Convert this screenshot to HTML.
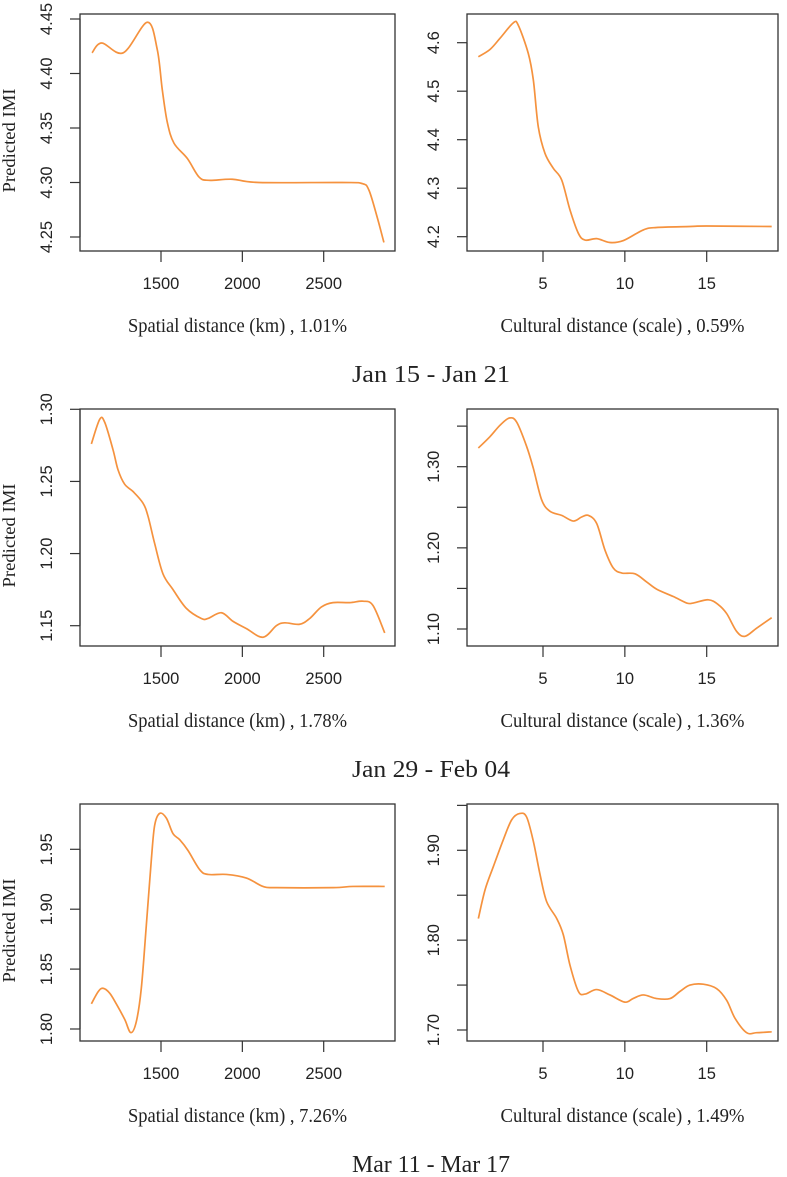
<!DOCTYPE html>
<html><head><meta charset="utf-8">
<style>
html,body{margin:0;padding:0;background:#fff;}
svg{display:block;}
.tick{font-family:"Liberation Sans",sans-serif;font-size:16.5px;fill:#222;}
.serif{font-family:"Liberation Serif",serif;fill:#222;}
</style></head>
<body>
<svg id="chart" width="787" height="1177" viewBox="0 0 787 1177" xmlns="http://www.w3.org/2000/svg"></svg>
<script>
// ---- data ----
const spatialTicks = [1500, 2000, 2500];
const culturalTicks = [5, 10, 15];
const captions = ["Jan 15 - Jan 21", "Jan 29 - Feb 04", "Mar 11 - Mar 17"];
const spatialTitles = ["Spatial distance (km) , 1.01%", "Spatial distance (km) , 1.78%", "Spatial distance (km) , 7.26%"];
const culturalTitles = ["Cultural distance (scale) , 0.59%", "Cultural distance (scale) , 1.36%", "Cultural distance (scale) , 1.49%"];

const p1X = [1076,1136,1268,1416,1477,1508,1539,1580,1662,1734,1795,1938,2102,2614,2737,2778,2829,2870];
const p1Y = [4.419,4.428,4.419,4.447,4.422,4.385,4.355,4.336,4.322,4.305,4.302,4.303,4.300,4.300,4.299,4.293,4.268,4.245];
const p1Ticks = [4.25,4.30,4.35,4.40,4.45];
const p1Labels = ["4.25","4.30","4.35","4.40","4.45"];

const p2X = [1.05,1.76,2.37,3.19,3.49,4.10,4.41,4.71,5.12,5.63,6.14,6.65,7.16,7.57,8.28,9.09,9.91,11.13,11.94,13.98,15,18.97];
const p2Y = [4.571,4.586,4.609,4.641,4.636,4.578,4.523,4.427,4.372,4.341,4.317,4.255,4.207,4.193,4.196,4.188,4.192,4.214,4.219,4.221,4.222,4.221];
const p2Ticks = [4.2,4.3,4.4,4.5,4.6];
const p2Labels = ["4.2","4.3","4.4","4.5","4.6"];

const p3X = [1072,1123,1154,1205,1236,1277,1328,1389,1420,1461,1512,1574,1656,1748,1789,1871,1943,2025,2127,2209,2260,2352,2414,2486,2557,2660,2742,2803,2875];
const p3Y = [1.276,1.293,1.291,1.272,1.258,1.248,1.243,1.235,1.226,1.207,1.186,1.175,1.162,1.155,1.155,1.159,1.153,1.148,1.142,1.150,1.152,1.151,1.155,1.163,1.166,1.166,1.167,1.164,1.145];
const p3Ticks = [1.15,1.20,1.25,1.30];
const p3Labels = ["1.15","1.20","1.25","1.30"];

const p4X = [1.05,1.76,2.37,2.94,3.39,4.00,4.41,4.92,5.43,6.14,6.85,7.36,7.77,8.28,8.79,9.30,9.81,10.62,11.33,11.95,12.96,13.78,14.18,15.1,15.71,16.22,16.83,17.34,18.05,18.97];
const p4Y = [1.323,1.337,1.351,1.360,1.355,1.325,1.298,1.259,1.245,1.240,1.233,1.238,1.240,1.230,1.197,1.175,1.169,1.168,1.158,1.149,1.140,1.132,1.132,1.136,1.130,1.119,1.097,1.091,1.101,1.114];
const p4Ticks = [1.10,1.15,1.20,1.25,1.30,1.35];
const p4Labels = ["1.10","","1.20","","1.30",""];

const p5X = [1072,1113,1143,1184,1225,1277,1314,1348,1379,1410,1441,1461,1492,1533,1574,1615,1666,1738,1789,1902,2025,2127,2209,2557,2680,2875];
const p5Y = [1.821,1.831,1.834,1.830,1.821,1.808,1.797,1.806,1.834,1.887,1.942,1.970,1.980,1.976,1.963,1.958,1.949,1.933,1.929,1.929,1.926,1.919,1.918,1.918,1.919,1.919];
const p5Ticks = [1.80,1.85,1.90,1.95];
const p5Labels = ["1.80","1.85","1.90","1.95"];

const p6X = [1.05,1.46,1.97,2.58,3.09,3.59,4.00,4.41,4.82,5.22,5.84,6.24,6.65,7.16,7.57,8.28,9.09,10.0,10.5,11.13,11.94,12.76,13.37,13.98,14.79,15.61,16.22,16.73,17.44,18.05,18.97];
const p6Y = [1.824,1.856,1.882,1.912,1.934,1.941,1.937,1.910,1.873,1.843,1.824,1.806,1.772,1.743,1.740,1.745,1.739,1.731,1.735,1.739,1.735,1.735,1.743,1.750,1.751,1.746,1.733,1.713,1.697,1.697,1.698];
const p6Ticks = [1.70,1.75,1.80,1.85,1.90,1.95];
const p6Labels = ["1.70","","1.80","","1.90",""];

// ---- drawing ----
const svg = document.getElementById('chart');
const NS = 'http://www.w3.org/2000/svg';
function mk(tag, attrs, parent){
  const e = document.createElementNS(NS, tag);
  for (const k in attrs) e.setAttribute(k, attrs[k]);
  (parent||svg).appendChild(e);
  return e;
}
function linScale(v0,p0,v1,p1){ return v => p0 + (v - v0) * (p1 - p0) / (v1 - v0); }
function smoothPath(pts){
  let d = 'M' + pts[0][0].toFixed(2) + ',' + pts[0][1].toFixed(2);
  for (let i = 0; i < pts.length - 1; i++){
    const p0 = pts[Math.max(0,i-1)], p1 = pts[i], p2 = pts[i+1], p3 = pts[Math.min(pts.length-1,i+2)];
    const c1x = p1[0] + (p2[0]-p0[0])/6, c1y = p1[1] + (p2[1]-p0[1])/6;
    const c2x = p2[0] - (p3[0]-p1[0])/6, c2y = p2[1] - (p3[1]-p1[1])/6;
    d += ' C' + c1x.toFixed(2)+','+c1y.toFixed(2)+' '+c2x.toFixed(2)+','+c2y.toFixed(2)+' '+p2[0].toFixed(2)+','+p2[1].toFixed(2);
  }
  return d;
}

const panels = [
  {side:'L', row:0, xs:p1X, ys:p1Y, yt:p1Ticks, yl:p1Labels, yv0:4.25, yp0:237, yv1:4.45, yp1:19},
  {side:'R', row:0, xs:p2X, ys:p2Y, yt:p2Ticks, yl:p2Labels, yv0:4.2, yp0:236.7, yv1:4.6, yp1:42.7},
  {side:'L', row:1, xs:p3X, ys:p3Y, yt:p3Ticks, yl:p3Labels, yv0:1.15, yp0:230.7, yv1:1.30, yp1:14.3},
  {side:'R', row:1, xs:p4X, ys:p4Y, yt:p4Ticks, yl:p4Labels, yv0:1.10, yp0:234, yv1:1.30, yp1:71.7},
  {side:'L', row:2, xs:p5X, ys:p5Y, yt:p5Ticks, yl:p5Labels, yv0:1.80, yp0:239, yv1:1.95, yp1:59.3},
  {side:'R', row:2, xs:p6X, ys:p6Y, yt:p6Ticks, yl:p6Labels, yv0:1.70, yp0:240, yv1:1.90, yp1:60.3}
];

panels.forEach((p, idx) => {
  const off = p.row * 395;
  const left = p.side === 'L' ? 80 : 467;
  const right = p.side === 'L' ? 395 : 778;
  const top = 14 + off, bottom = 251 + off;
  const xs = p.side === 'L' ? linScale(1500,161,2000,242.35) : linScale(5,543,10,624.85);
  const ys = linScale(p.yv0, p.yp0 + off, p.yv1, p.yp1 + off);
  const g = mk('g', {});
  
  

  const box = mk('rect', {x:left, y:top, width:right-left, height:bottom-top, fill:'none', stroke:'#333', 'stroke-width':1.3}, g);
  
  

  const xt = p.side === 'L' ? spatialTicks : culturalTicks;
  xt.forEach(t => {
    const x = xs(t);
    const tk = mk('line', {x1:x, y1:bottom, x2:x, y2:bottom+11, stroke:'#333', 'stroke-width':1.2}, g);
    
    
    const tl = mk('text', {x:x, y:bottom+38, 'text-anchor':'middle', class:'tick'}, g);
    tl.textContent = String(t);
    
    
  });
  const minY = Math.min(...p.yt), maxY = Math.max(...p.yt);
  const ax = mk('line', {x1:left, y1:ys(minY), x2:left, y2:ys(maxY), stroke:'#333', 'stroke-width':1.2}, g);
  
  
  p.yt.forEach((t, i) => {
    const y = ys(t);
    const tk = mk('line', {x1:left-10, y1:y, x2:left, y2:y, stroke:'#333', 'stroke-width':1.2}, g);
    
    
    if (p.yl[i]){
      const lx = left - 28;
      const tl = mk('text', {x:lx, y:y, 'text-anchor':'middle', class:'tick', transform:'rotate(-90 '+lx+' '+y+')'}, g);
      tl.textContent = p.yl[i];
      
      
    }
  });
  const pts = p.xs.map((v, i) => [xs(v), ys(p.ys[i])]);
  const path = mk('path', {d:smoothPath(pts), fill:'none', stroke:'#F5923E', 'stroke-width':1.7, 'stroke-linejoin':'round'}, g);
  
  

  const cx = (left + right) / 2;
  const title = mk('text', {x:cx, y:332+off, 'text-anchor':'middle', class:'serif', 'font-size':'20px',
    textLength: p.side === 'L' ? 219 : 244, lengthAdjust:'spacingAndGlyphs'}, g);
  title.textContent = p.side === 'L' ? spatialTitles[p.row] : culturalTitles[p.row];
  
  

  if (p.side === 'L'){
    const yc = (top + bottom) / 2 + 8;
    const yt = mk('text', {x:15, y:yc, 'text-anchor':'middle', class:'serif', 'font-size':'18px',
      transform:'rotate(-90 15 '+yc+')', textLength:104, lengthAdjust:'spacingAndGlyphs'}, g);
    yt.textContent = 'Predicted IMI';
    
    
  }
});

captions.forEach((c, r) => {
  const t = mk('text', {x:431, y:382 + r*395, 'text-anchor':'middle', class:'serif', 'font-size':'24px',
    textLength:158, lengthAdjust:'spacingAndGlyphs'});
  t.textContent = c;
  
  
});
</script>
</body></html>
